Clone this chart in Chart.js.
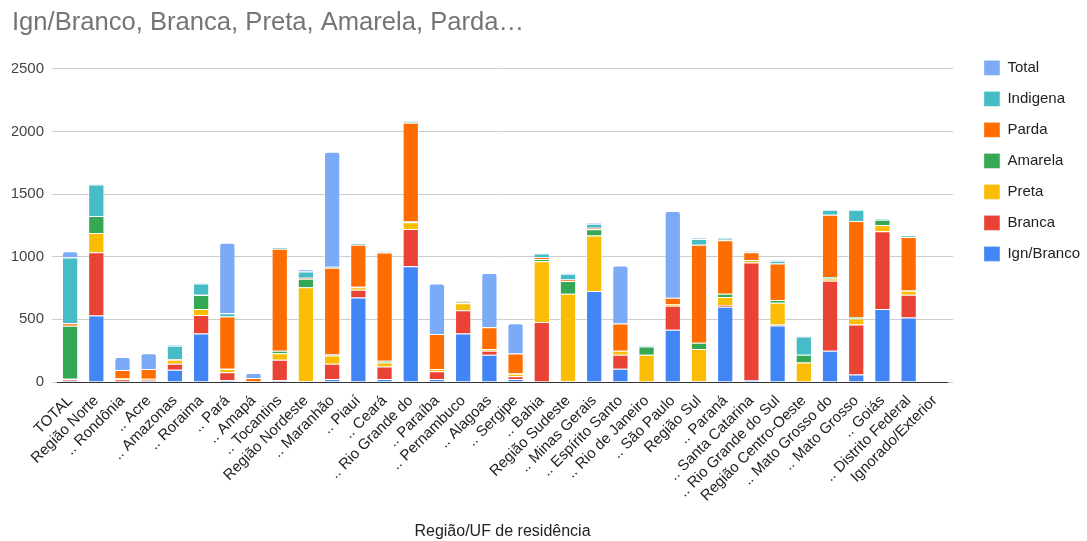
<!DOCTYPE html>
<html>
<head>
<meta charset="utf-8">
<script src="https://cdn.jsdelivr.net/npm/chart.js@4.4.0/dist/chart.umd.min.js"></script>
<style>
  html, body { margin: 0; padding: 0; background: #fff; }
</style>
</head>
<body>
<canvas id="chart" width="1087" height="541"></canvas>
<script>
const regioes = [
    'TOTAL', 'Região Norte', '.. Rondônia', '.. Acre', '.. Amazonas', '.. Roraima', '.. Pará', '.. Amapá',
    '.. Tocantins', 'Região Nordeste', '.. Maranhão', '.. Piauí', '.. Ceará', '.. Rio Grande do', '.. Paraíba',
    '.. Pernambuco', '.. Alagoas', '.. Sergipe', '.. Bahia', 'Região Sudeste', '.. Minas Gerais', '.. Espírito Santo',
    '.. Rio de Janeiro', '.. São Paulo', 'Região Sul', '.. Paraná', '.. Santa Catarina', '.. Rio Grande do Sul',
    'Região Centro-Oeste', '.. Mato Grosso do', '.. Mato Grosso', '.. Goiás', '.. Distrito Federal', 'Ignorado/Exterior'
];

const ignBranco = [10, 530, 0, 10, 98, 387, 13, 0, 13, 5, 24, 675, 24, 924, 24, 387, 217, 24, 0, 0, 726, 106, 0, 416, 0, 601, 16, 450, 0, 250, 60, 583, 514, 0];
const branca    = [13, 505, 22, 8, 48, 148, 64, 4, 164, 0, 122, 61, 100, 297, 61, 185, 32, 21, 479, 5, 0, 111, 0, 193, 6, 13, 937, 8, 0, 558, 398, 619, 182, 5];
const preta     = [2, 154, 8, 8, 32, 48, 26, 0, 53, 752, 66, 21, 32, 53, 18, 56, 13, 21, 485, 699, 444, 32, 217, 13, 257, 64, 21, 175, 156, 18, 48, 51, 32, 0];
const amarela   = [423, 135, 0, 0, 0, 111, 2, 0, 19, 67, 8, 3, 13, 8, 0, 3, 0, 3, 18, 101, 48, 0, 66, 0, 50, 26, 0, 21, 61, 11, 13, 42, 3, 0];
const parda     = [21, 0, 66, 77, 3, 2, 417, 28, 815, 7, 691, 336, 864, 786, 281, 5, 175, 159, 16, 13, 13, 217, 0, 51, 783, 427, 61, 291, 0, 498, 765, 0, 426, 0];
const indigena  = [524, 252, 0, 0, 108, 90, 26, 0, 11, 51, 8, 11, 4, 8, 0, 8, 0, 0, 27, 45, 32, 0, 10, 0, 45, 13, 4, 22, 146, 39, 90, 8, 13, 0];
const total     = [50, 6, 103, 127, 8, 6, 564, 39, 6, 18, 919, 6, 6, 6, 402, 6, 432, 241, 6, 6, 8, 463, 4, 691, 8, 6, 6, 6, 6, 0, 0, 0, 0, 5];

const FONT = "'Liberation Sans', Arial, sans-serif";
Chart.defaults.font.family = FONT;

const edge = 'rgba(255,255,255,0.35)';
function serie(label, data, color, extra) {
    return Object.assign({
        label: label,
        data: data,
        backgroundColor: color,
        borderColor: edge,
        borderWidth: 1,
        barPercentage: 1,
        categoryPercentage: 0.62
    }, extra || {});
}

const ctx = document.getElementById('chart').getContext('2d');
new Chart(ctx, {
    type: 'bar',
    data: {
        labels: regioes,
        datasets: [
            serie('Ign/Branco', ignBranco, '#4285F4'),
            serie('Branca', branca, '#EA4335'),
            serie('Preta', preta, '#FBBC04'),
            serie('Amarela', amarela, '#34A853'),
            serie('Parda', parda, '#FF6D01'),
            serie('Indigena', indigena, '#46BDC6'),
            serie('Total', total, '#7BAAF7', { borderRadius: 3 })
        ]
    },
    options: {
        responsive: false,
        animation: false,
        layout: { padding: { left: 12, right: -3, top: 0, bottom: 0 } },
        plugins: {
            title: {
                display: true,
                text: 'Ign/Branco, Branca, Preta, Amarela, Parda…',
                align: 'start',
                color: '#757575',
                font: { size: 25.6, weight: 'normal' },
                padding: { top: 8, bottom: 30 }
            },
            legend: {
                position: 'right',
                align: 'start',
                reverse: true,
                title: { display: true, text: '', font: { size: 12 }, padding: { top: 30, bottom: 0 } },
                labels: {
                    boxWidth: 16,
                    boxHeight: 15,
                    padding: 16,
                    color: '#222',
                    font: { size: 15 }
                }
            },
            tooltip: { enabled: false }
        },
        scales: {
            x: {
                stacked: true,
                grid: { display: false },
                border: { color: '#333', width: 1 },
                ticks: {
                    autoSkip: false,
                    maxRotation: 45,
                    minRotation: 45,
                    color: '#222',
                    font: { size: 15 },
                    padding: 2
                },
                title: {
                    display: true,
                    text: 'Região/UF de residência',
                    color: '#222',
                    font: { size: 16 },
                    padding: { top: 0, bottom: 0 }
                },
                afterFit: (s) => { s.height = 159; }
            },
            y: {
                stacked: true,
                min: 0,
                max: 2500,
                ticks: {
                    stepSize: 500,
                    color: '#444',
                    font: { size: 15 },
                    padding: 8,
                    callback: (v) => String(v)
                },
                grid: { color: '#cccccc', tickLength: 5 },
                border: { display: false },
                afterFit: (s) => { s.width = 45; }
            },
            y2: {
                position: 'right',
                min: 0,
                max: 2500,
                ticks: { stepSize: 500, display: false },
                grid: { color: '#cccccc', tickLength: 5, drawOnChartArea: false },
                border: { display: false },
                afterFit: (s) => { s.width = 20; }
            }
        }
    }
});
</script>
</body>
</html>
